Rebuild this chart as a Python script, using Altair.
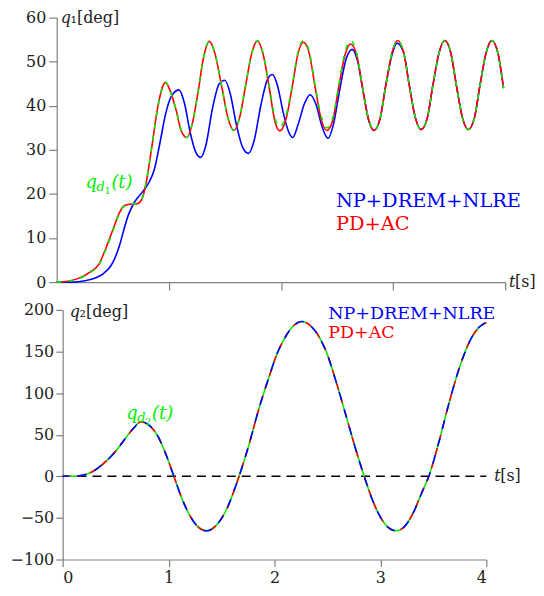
import altair as alt
import pandas as pd

# ---------------- top panel: q1 [deg] ----------------
t_q1 = [0.00, 0.10, 0.20, 0.30, 0.38, 0.44, 0.50, 0.55, 0.60, 0.66,
        0.72, 0.76, 0.80, 0.85, 0.90, 0.94, 0.97, 1.01, 1.065, 1.11,
        1.16, 1.21, 1.26, 1.31, 1.36, 1.41, 1.47, 1.53, 1.58, 1.63,
        1.685, 1.74, 1.79, 1.84, 1.895, 1.945, 1.99, 2.045, 2.10, 2.15,
        2.20, 2.255, 2.305, 2.36, 2.41, 2.465, 2.515, 2.57, 2.62, 2.675,
        2.725, 2.78, 2.83, 2.885, 2.935, 2.99, 3.04, 3.095, 3.145, 3.20,
        3.25, 3.305, 3.355, 3.41, 3.46, 3.515, 3.565, 3.62, 3.67, 3.725,
        3.775, 3.83, 3.88, 3.935, 3.985]
q1_ref = [0.0, 0.2, 0.8, 2.2, 4.0, 7.5, 11.5, 15.0, 17.2, 17.7,
          17.9, 19.0, 23.0, 31.0, 39.5, 44.0, 45.4, 43.5, 39.0, 34.5,
          32.8, 36.0, 43.0, 51.0, 54.6, 52.0, 44.6, 37.0, 34.4, 37.2,
          44.6, 52.0, 54.8, 52.0, 44.6, 37.4, 35.2, 37.8, 44.6, 52.0,
          54.8, 52.0, 44.6, 37.6, 35.0, 37.6, 44.6, 52.0, 54.8, 52.0,
          44.6, 37.2, 34.4, 37.2, 44.6, 52.0, 54.8, 52.0, 44.6, 37.2,
          34.6, 37.2, 44.6, 52.0, 54.8, 52.0, 44.6, 37.2, 34.6, 37.2,
          44.6, 52.0, 54.8, 52.0, 44.0]
q1_pdac = [0.0, 0.2, 0.9, 2.3, 4.2, 7.8, 11.8, 15.2, 17.3, 17.7,
           17.8, 18.8, 22.8, 31.0, 39.5, 44.0, 45.3, 43.5, 39.0, 34.3,
           32.8, 36.0, 43.0, 51.0, 54.6, 52.0, 44.6, 37.0, 34.4, 37.2,
           44.6, 52.0, 54.7, 51.8, 44.2, 36.6, 34.3, 37.0, 44.2, 51.6,
           54.4, 51.6, 44.2, 36.8, 34.4, 37.0, 44.2, 51.4, 54.0, 51.6,
           44.4, 37.0, 34.4, 37.2, 44.6, 52.0, 54.8, 52.0, 44.6, 37.2,
           34.6, 37.2, 44.6, 52.0, 54.8, 52.0, 44.6, 37.2, 34.6, 37.2,
           44.6, 52.0, 54.8, 52.0, 44.0]
t_q1_np = [0.00, 0.15, 0.25, 0.35, 0.42, 0.48, 0.52, 0.56, 0.60, 0.64,
           0.69, 0.76, 0.82, 0.87, 0.92, 0.97, 1.02, 1.09, 1.14, 1.19,
           1.24, 1.285, 1.33, 1.39, 1.45, 1.50, 1.55, 1.60, 1.66, 1.71,
           1.76, 1.82, 1.88, 1.925, 1.97, 2.02, 2.07, 2.105, 2.15, 2.21,
           2.26, 2.31, 2.37, 2.42, 2.47, 2.52, 2.58, 2.635, 2.685, 2.735,
           2.785, 2.83, 2.885, 2.935, 2.99, 3.035, 3.095, 3.145, 3.20, 3.25,
           3.305, 3.355, 3.41, 3.46, 3.515, 3.565, 3.62, 3.67, 3.725, 3.775,
           3.83, 3.88, 3.935, 3.985]
q1_np = [0.0, 0.0, 0.3, 1.0, 2.0, 3.6, 5.5, 8.3, 12.0, 15.3,
         18.0, 20.3, 22.5, 25.5, 31.5, 38.0, 42.0, 43.6, 40.5, 34.0,
         29.5, 28.3, 31.0, 39.5, 45.0, 45.8, 42.5, 36.0, 30.5, 29.2,
         32.0, 40.0, 46.0, 47.1, 44.5, 38.5, 34.0, 32.8, 35.5, 40.5,
         42.5, 40.5, 35.0, 32.6, 36.0, 43.0, 50.5, 52.8, 50.0, 43.0,
         36.5, 34.4, 37.2, 44.6, 51.5, 54.2, 52.0, 44.6, 37.2, 34.6,
         37.2, 44.6, 52.0, 54.8, 52.0, 44.6, 37.2, 34.6, 37.2, 44.6,
         52.0, 54.8, 52.0, 44.0]

# ---------------- bottom panel: q2 [deg] ----------------
t_q2 = [0.00, 0.10, 0.20, 0.30, 0.40, 0.50, 0.60, 0.67, 0.74, 0.82,
        0.90, 0.97, 1.05, 1.13, 1.20, 1.28, 1.36, 1.45, 1.55, 1.66,
        1.75, 1.85, 1.95, 2.02, 2.10, 2.18, 2.26, 2.34, 2.42, 2.50,
        2.60, 2.70, 2.78, 2.85, 2.93, 3.00, 3.07, 3.15, 3.23, 3.31,
        3.39, 3.46, 3.55, 3.65, 3.75, 3.85, 3.93, 4.00]
q2_ref = [0, 0, 1.5, 7, 17, 30, 47, 58, 65.5, 61,
          48, 28, 0, -28, -47, -61, -65.5, -59, -39, -2,
          34, 80, 120, 146, 167, 181, 186, 181, 168, 146,
          106, 62, 27, -1, -30, -49, -61, -65.5, -60, -44,
          -20, 1, 40, 89, 132, 164, 179, 185]
q2_pdac = [0, 0, 1.5, 7, 17, 30, 47, 58, 65.5, 61,
           48, 28, 0, -28, -47, -61, -65.5, -59, -39, -2,
           34, 80, 120, 146, 167, 181, 186, 181, 168, 146,
           106, 62, 27, -1, -30, -49, -61, -65.5, -60, -44,
           -20, 1, 40, 89, 132, 164, 179, 185]
q2_np = [0, 0, 1.5, 7, 17, 30, 47, 58, 65.5, 61,
         48, 28, 0, -28, -47, -61, -65.5, -59, -39, -2,
         34, 80, 120, 146, 167, 181, 186, 181, 168, 146,
         106, 62, 27, -1, -30, -49, -61, -65.5, -60, -44,
         -20, 1, 40, 89, 132, 164, 179, 185]

x_ticks_top = [1, 2, 3, 4]
y_ticks_top = [0, 10, 20, 30, 40, 50, 60]
x_ticks_bot = [0, 1, 2, 3, 4]
y_ticks_bot = [-100, -50, 0, 50, 100, 150, 200]
zero_line = {"t0": [0], "t1": [4], "q": [0]}

BLUE, RED, GREEN = "#0000ff", "#ff0000", "#00ee00"
AXC, TXT = "#808080", "#222222"
FONT = "DejaVu Serif"
LW = 1.6
TICKF = 16


def axis_y(values, tick, pad):
    return alt.Axis(values=values, title=None, grid=False, tickSize=tick, labelPadding=pad,
                    labelFont=FONT, labelFontSize=TICKF, labelColor=TXT,
                    domainColor=AXC, tickColor=AXC, domainWidth=1.2, tickWidth=1.2)


X1 = alt.X("t:Q", scale=alt.Scale(domain=[0, 4], nice=False, zero=False),
           axis=alt.Axis(values=x_ticks_top, labels=False, title=None, grid=False, tickSize=8,
                         domainColor=AXC, tickColor=AXC, domainWidth=1.2, tickWidth=1.2))
Y1 = alt.Y("q:Q", scale=alt.Scale(domain=[0, 60], nice=False, zero=False),
           axis=axis_y(y_ticks_top, 8, 3))
X2 = alt.X("t:Q", scale=alt.Scale(domain=[0, 4], nice=False, zero=False),
           axis=alt.Axis(values=x_ticks_bot, title=None, grid=False, tickSize=7, labelPadding=3,
                         labelFont=FONT, labelFontSize=TICKF, labelColor=TXT, format="d",
                         domainColor=AXC, tickColor=AXC, domainWidth=1.2, tickWidth=1.2))
Y2 = alt.Y("q:Q", scale=alt.Scale(domain=[-100, 200], nice=False, zero=False),
           axis=axis_y(y_ticks_bot, 7, 2))


def line(ts, qs, color, X, Y, dash=None, offset=0):
    kw = dict(color=color, strokeWidth=LW, interpolate="monotone")
    if dash:
        kw["strokeDash"] = dash
        kw["strokeDashOffset"] = offset
    return alt.Chart(pd.DataFrame({"t": ts, "q": qs})).mark_line(**kw).encode(x=X, y=Y)


def piece(t, q, s, color, size, X, Y, style="normal", dx=0, dy=0):
    return alt.Chart(pd.DataFrame({"t": [t], "q": [q], "s": [s]})).mark_text(
        align="left", baseline="middle", font=FONT, fontSize=size, fontStyle=style,
        color=color, dx=dx, dy=dy).encode(x=X, y=Y, text="s:N")


def qd_label(t, q, idx, X, Y):
    return [
        piece(t, q, "q", GREEN, 18, X, Y, "italic"),
        piece(t, q, "d", GREEN, 13, X, Y, "italic", dx=11, dy=4),
        piece(t, q, idx, GREEN, 10, X, Y, dx=19, dy=8),
        piece(t, q, "(t)", GREEN, 18, X, Y, "italic", dx=26),
    ]


top = alt.layer(
    line(t_q1_np, q1_np, BLUE, X1, Y1),
    line(t_q1, q1_pdac, RED, X1, Y1),
    line(t_q1, q1_ref, GREEN, X1, Y1, dash=[5, 7]),
    piece(0.035, 60, "q", TXT, 16, X1, Y1, "italic"),
    piece(0.035, 60, "₁[deg]", TXT, 16, X1, Y1, dx=10),
    piece(4.035, 0, "t", TXT, 16, X1, Y1, "italic"),
    piece(4.035, 0, "[s]", TXT, 16, X1, Y1, dx=6),
    piece(2.49, 18.3, "NP+DREM+NLRE", BLUE, 19.5, X1, Y1),
    piece(2.49, 13.2, "PD+AC", RED, 19.5, X1, Y1),
    *qd_label(0.257, 22.5, "1", X1, Y1),
).properties(width=451, height=266)

bottom = alt.layer(
    alt.Chart(pd.DataFrame(zero_line)).mark_rule(color="black", strokeWidth=1.5, strokeDash=[9, 6]).encode(
        x=X2, x2="t1:Q", y=Y2).transform_calculate(t="datum.t0"),
    line(t_q2, q2_ref, GREEN, X2, Y2),
    line(t_q2, q2_pdac, RED, X2, Y2, dash=[7, 7]),
    line(t_q2, q2_np, BLUE, X2, Y2, dash=[9, 9], offset=3),
    piece(0.066, 198, "q", TXT, 16, X2, Y2, "italic"),
    piece(0.066, 198, "₂[deg]", TXT, 16, X2, Y2, dx=10),
    piece(4.075, 0, "t", TXT, 16, X2, Y2, "italic"),
    piece(4.075, 0, "[s]", TXT, 16, X2, Y2, dx=6),
    piece(2.507, 195.5, "NP+DREM+NLRE", BLUE, 17.6, X2, Y2),
    piece(2.507, 172, "PD+AC", RED, 17.6, X2, Y2),
    *qd_label(0.6, 75, "2", X2, Y2),
).properties(width=426, height=251)


def spacer(w):
    # invisible point whose bounds reach x = w, so that the panel beside it starts further right
    return alt.Chart(pd.DataFrame({"s": [0]})).mark_point(opacity=0, size=1, strokeWidth=0).encode(
        x=alt.value(w), y=alt.value(0)).properties(width=1, height=1)


chart = alt.vconcat(
    alt.hconcat(spacer(15), top, spacing=0),
    alt.hconcat(spacer(0), bottom, spacing=0),
    spacing=11,
).properties(padding={"left": 0, "top": 0, "right": 0, "bottom": 0}
).configure_view(stroke=None)

chart.save("out.html", embed_options={"renderer": "svg", "actions": False})
